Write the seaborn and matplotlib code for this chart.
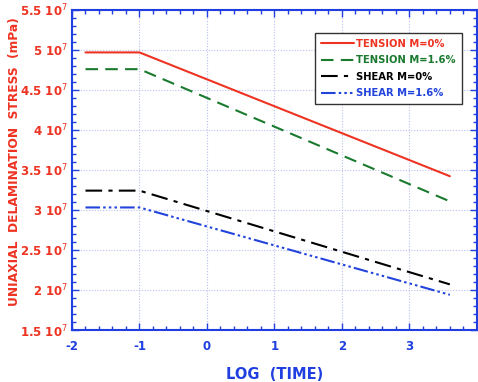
import matplotlib
matplotlib.use("Agg")
import matplotlib.pyplot as plt
import seaborn as sns
import pandas as pd
from matplotlib.ticker import MultipleLocator, FuncFormatter

# Data
log_time = [-1.8, -1.0, 3.6]
tension_m0 = [4.965e7, 4.965e7, 3.42e7]
tension_m16 = [4.756e7, 4.756e7, 3.106e7]
shear_m0 = [3.24e7, 3.24e7, 2.07e7]
shear_m16 = [3.03e7, 3.03e7, 1.94e7]
series_names = ["TENSION M=0%", "TENSION M=1.6%", "SHEAR M=0%", "SHEAR M=1.6%"]
x_ticks = [-2, -1, 0, 1, 2, 3]
y_ticks = [1.5e7, 2e7, 2.5e7, 3e7, 3.5e7, 4e7, 4.5e7, 5e7, 5.5e7]

sns.set_theme(style="white")
plt.rcParams['font.family'] = ['DejaVu Sans']
plt.rcParams['axes.unicode_minus'] = False

RED = "#ee3322"
GREEN = "#1a7a2e"
BLUE_AX = "#1f3fe0"
BLUE_LN = "#2244dd"

fig = plt.figure(figsize=(4.78, 3.82), dpi=100)
ax = fig.add_axes([0.1506, 0.136, 0.847, 0.839])

values = [tension_m0, tension_m16, shear_m0, shear_m16]
colors = [RED, GREEN, "black", BLUE_LN]
styles = ["-", (0, (6, 3.5)), (0, (8, 3, 2, 3)), (0, (7, 1.5, 1.2, 1.5, 1.2, 1.5, 1.2, 1.5))]

rows = []
for name, vals in zip(series_names, values):
    for x, y in zip(log_time, vals):
        rows.append({"x": x, "y": y, "series": name})
df = pd.DataFrame(rows)

for name, c, ls in zip(series_names, colors, styles):
    sub = df[df["series"] == name]
    sns.lineplot(data=sub, x="x", y="y", ax=ax, color=c, linestyle=ls,
                 linewidth=1.5, label=name, sort=False)

ax.set_xlim(-2, 4)
ax.set_ylim(1.5e7, 5.5e7)
ax.set_xticks(x_ticks)
ax.set_yticks(y_ticks)
ax.xaxis.set_minor_locator(MultipleLocator(0.2))
ax.yaxis.set_minor_locator(MultipleLocator(0.1e7))

def yfmt(v, pos):
    m = v / 1e7
    s = ("%g" % m)
    return s + r" 10$^{7}$"
ax.yaxis.set_major_formatter(FuncFormatter(yfmt))

ax.grid(True, which="major", color="#b8c0ee", linestyle=(0, (1, 1.5)), linewidth=0.8)

for sp in ax.spines.values():
    sp.set_color(BLUE_AX)
    sp.set_linewidth(1.5)

ax.tick_params(axis="both", which="both", direction="in", colors=BLUE_AX,
               top=True, right=True, bottom=True, left=True)
ax.tick_params(axis="both", which="major", length=5, width=1)
ax.tick_params(axis="both", which="minor", length=3, width=1)
ax.tick_params(axis="y", which="major", labelcolor=RED, labelsize=8.5, pad=3)
ax.tick_params(axis="x", which="major", labelcolor=BLUE_AX, labelsize=8.5, pad=7)
for t in ax.get_yticklabels():
    t.set_fontweight("bold")
for t in ax.get_xticklabels():
    t.set_fontweight("bold")

ax.set_xlabel("LOG  (TIME)", color=BLUE_AX, fontsize=10.5, fontweight="bold", labelpad=10)
ax.set_ylabel("UNIAXIAL  DELAMINATION  STRESS  (mPa)", color=RED, fontsize=8.8,
              fontweight="bold")
ax.yaxis.set_label_coords(-0.125, 0.527)

leg = ax.legend(loc="upper right", bbox_to_anchor=(0.963, 0.927), frameon=True,
                fancybox=False, framealpha=1, edgecolor="#333333",
                handlelength=3.3, handletextpad=0.2, borderpad=0.6,
                labelspacing=0.65, borderaxespad=0,
                prop={"weight": "bold", "size": 7.2})
leg.get_frame().set_linewidth(1.0)
for txt, c in zip(leg.get_texts(), colors):
    txt.set_color(c)

fig.savefig("out.png", dpi=100)
